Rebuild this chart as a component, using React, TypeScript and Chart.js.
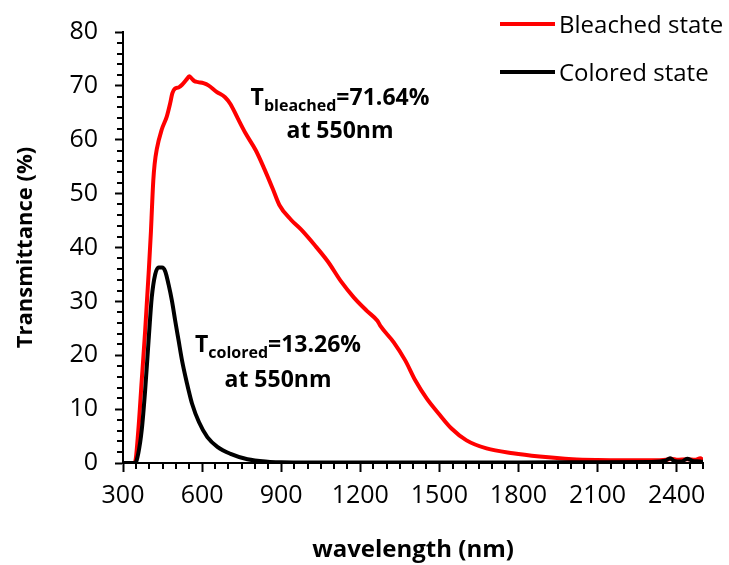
import React, { useEffect, useRef } from 'react';
import { Chart, registerables } from 'chart.js';

Chart.register(...registerables);

// ---- Data ----
const bleachedWavelength = [
  300, 340, 346, 358, 371, 384, 397, 406, 410, 415, 420, 428, 447, 466, 479, 487, 497, 511, 524, 543, 551,
  560, 570, 585, 605, 624, 655, 687, 708, 734, 766, 804, 836, 868, 893, 938, 976, 1026, 1077, 1127, 1176,
  1226, 1265, 1277, 1327, 1371, 1409, 1453, 1497, 1546, 1603, 1679, 1779, 1880, 2005, 2100, 2200, 2300,
  2360, 2380, 2400, 2440, 2470, 2490, 2500,
];
const bleachedValues = [
  0, 0, 0.2, 6, 15.3, 24.5, 35, 43, 47.5, 52.5, 55.5, 58.2, 61.9, 64.3, 66.8, 68.6, 69.5, 69.7, 70.2, 71.3, 71.8,
  71.4, 70.9, 70.7, 70.5, 70.1, 68.9, 67.9, 66.6, 64.1, 61.1, 58.0, 54.6, 50.9, 47.9, 45.1, 43.3, 40.5, 37.4, 33.7, 30.7,
  28.2, 26.4, 25.4, 22.4, 19.0, 15.3, 11.9, 9.2, 6.4, 4.2, 2.7, 1.8, 1.2, 0.7, 0.55, 0.5, 0.5,
  0.6, 0.8, 0.6, 0.7, 0.6, 0.9, 0.5,
];

const coloredWavelength = [
  300, 346, 358, 371, 384, 397, 409, 422, 435, 448, 460, 473, 486, 498, 511, 524, 543, 550, 562, 588, 620,
  658, 708, 772, 849, 900, 1000, 1200, 1500, 1800, 2100, 2300, 2360, 2375, 2390, 2420, 2440, 2460, 2490, 2500,
];
const coloredValues = [
  0, 0, 1.8, 6.1, 13.5, 22.7, 30.7, 35, 36.3, 36.3, 35.6, 33.1, 30, 26.4, 22.7, 19, 14.7, 13.26, 11, 7.6, 4.8,
  3.0, 1.7, 0.7, 0.25, 0.15, 0.1, 0.1, 0.1, 0.1, 0.15, 0.2, 0.5, 0.9, 0.4, 0.3, 0.8, 0.4, 0.3, 0.2,
];

const xTickLabels = [300, 600, 900, 1200, 1500, 1800, 2100, 2400];
const yTickLabels = [0, 10, 20, 30, 40, 50, 60, 70, 80];
const xMinorStep = 50;
const yMinorStep = 2;

const seriesNames = ['Bleached state', 'Colored state'];
const seriesColors = ['#ff0000', '#000000'];

const bleachedNote = { main: 'T', sub: 'bleached', rest: '=71.64%', line2: 'at 550nm' };
const coloredNote = { main: 'T', sub: 'colored', rest: '=13.26%', line2: 'at 550nm' };

const FONT = "'Open Sans', sans-serif";

function drawNote(
  ctx: CanvasRenderingContext2D,
  note: { main: string; sub: string; rest: string; line2: string },
  cx: number,
  base1: number,
  base2: number
) {
  const big = `bold 23px ${FONT}`;
  const small = `bold 16px ${FONT}`;
  ctx.font = big;
  const w1 = ctx.measureText(note.main).width;
  const w3 = ctx.measureText(note.rest).width;
  ctx.font = small;
  const w2 = ctx.measureText(note.sub).width;
  const total = w1 + w2 + w3;
  let x = cx - total / 2;
  ctx.textAlign = 'left';
  ctx.textBaseline = 'alphabetic';
  ctx.fillStyle = '#000';
  ctx.font = big;
  ctx.fillText(note.main, x, base1);
  x += w1;
  ctx.font = small;
  ctx.fillText(note.sub, x, base1 + 6);
  x += w2;
  ctx.font = big;
  ctx.fillText(note.rest, x, base1);
  ctx.textAlign = 'center';
  ctx.fillText(note.line2, cx, base2);
}

const decorPlugin = {
  id: 'decor',
  afterDraw(chart: any) {
    const ctx: CanvasRenderingContext2D = chart.ctx;
    const xs = chart.scales.x;
    const ys = chart.scales.y;
    ctx.save();
    // minor ticks
    ctx.strokeStyle = '#000';
    ctx.lineWidth = 2;
    ctx.beginPath();
    for (let v = xs.min + xMinorStep; v <= xs.max + 0.001; v += xMinorStep) {
      if (xTickLabels.includes(v)) continue;
      const px = Math.round(xs.getPixelForValue(v));
      ctx.moveTo(px, ys.bottom);
      ctx.lineTo(px, ys.bottom + 6);
    }
    for (let v = ys.min + yMinorStep; v < ys.max; v += yMinorStep) {
      if (yTickLabels.includes(v)) continue;
      const py = Math.round(ys.getPixelForValue(v));
      ctx.moveTo(xs.left - 6, py);
      ctx.lineTo(xs.left, py);
    }
    ctx.stroke();

    // legend
    const legendY = [24, 72];
    seriesNames.forEach((name, i) => {
      ctx.strokeStyle = seriesColors[i];
      ctx.lineWidth = 4;
      ctx.beginPath();
      ctx.moveTo(500, legendY[i]);
      ctx.lineTo(555, legendY[i]);
      ctx.stroke();
      ctx.fillStyle = '#000';
      ctx.font = `24px ${FONT}`;
      ctx.textAlign = 'left';
      ctx.textBaseline = 'alphabetic';
      ctx.fillText(name, 559, legendY[i] + 9);
    });

    // annotations
    drawNote(ctx, bleachedNote, 340, 105, 138);
    drawNote(ctx, coloredNote, 278, 352, 387);
    ctx.restore();
  },
};

export default function App() {
  const ref = useRef<HTMLCanvasElement>(null);

  useEffect(() => {
    if (!ref.current) return;
    Chart.defaults.font.family = FONT;
    Chart.defaults.color = '#000';
    const chart = new Chart(ref.current, {
      type: 'line',
      data: {
        datasets: [
          {
            label: seriesNames[0],
            data: bleachedWavelength.map((x, i) => ({ x, y: bleachedValues[i] })),
            borderColor: seriesColors[0],
            borderWidth: 4,
            pointRadius: 0,
            cubicInterpolationMode: 'monotone',
            fill: false,
            order: 2,
          },
          {
            label: seriesNames[1],
            data: coloredWavelength.map((x, i) => ({ x, y: coloredValues[i] })),
            borderColor: seriesColors[1],
            borderWidth: 4,
            pointRadius: 0,
            cubicInterpolationMode: 'monotone',
            fill: false,
            order: 1,
          },
        ],
      },
      options: {
        animation: false,
        responsive: false,
        devicePixelRatio: 1,
        layout: { padding: { left: 0, right: 26, top: 28, bottom: 0 } },
        plugins: { legend: { display: false }, tooltip: { enabled: false } },
        scales: {
          x: {
            type: 'linear',
            min: 300,
            max: 2500,
            afterBuildTicks: (s: any) => {
              s.ticks = xTickLabels.map((v) => ({ value: v }));
            },
            afterFit: (s: any) => {
              s.height = 102;
            },
            ticks: {
              font: { size: 25 },
              color: '#000',
              padding: 9,
              maxRotation: 0,
              autoSkip: false,
              callback: (v: any) => String(v),
            },
            grid: { drawOnChartArea: false, drawTicks: true, tickLength: 9, tickWidth: 2, tickColor: '#000' },
            border: { display: true, color: '#000', width: 2 },
            title: {
              display: true,
              text: 'wavelength (nm)',
              font: { size: 24, weight: 'bold' },
              color: '#000',
              padding: { top: 0, bottom: 0 },
            },
          },
          y: {
            type: 'linear',
            min: 0,
            max: 80,
            afterBuildTicks: (s: any) => {
              s.ticks = yTickLabels.map((v) => ({ value: v }));
            },
            afterFit: (s: any) => {
              s.width = 123;
            },
            ticks: { font: { size: 25 }, color: '#000', padding: 17, autoSkip: false, callback: (v: any) => String(v) },
            grid: { drawOnChartArea: false, drawTicks: true, tickLength: 8, tickWidth: 2, tickColor: '#000' },
            border: { display: true, color: '#000', width: 2 },
            title: {
              display: true,
              text: 'Transmittance (%)',
              font: { size: 22, weight: 'bold' },
              color: '#000',
              padding: { top: 13, bottom: 0 },
            },
          },
        },
      },
      plugins: [decorPlugin],
    } as any);
    return () => chart.destroy();
  }, []);

  return (
    <div style={{ position: 'absolute', left: 0, top: 0, width: 729, height: 565, background: '#fff' }}>
      <canvas ref={ref} width={729} height={565} style={{ width: 729, height: 565, display: 'block' }} />
    </div>
  );
}
